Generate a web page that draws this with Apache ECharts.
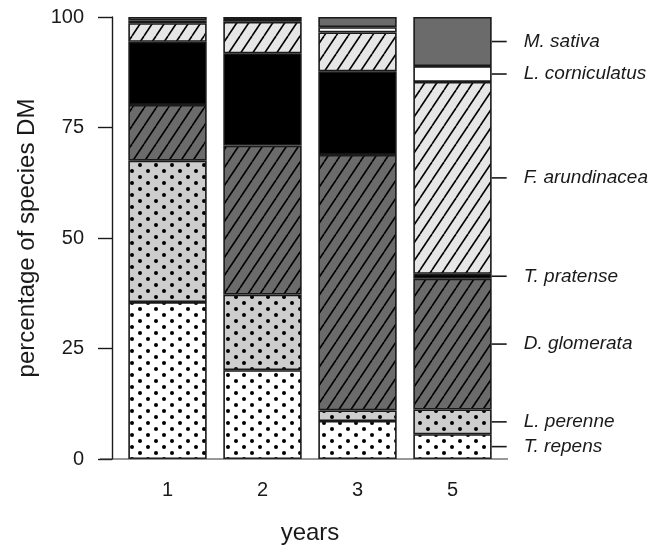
<!DOCTYPE html>
<html>
<head>
<meta charset="utf-8">
<script src="https://cdn.jsdelivr.net/npm/echarts@6/dist/echarts.min.js"></script>
<style>
html,body{margin:0;padding:0;background:#fff;}
#chart{width:657px;height:554px;}
</style>
</head>
<body>
<div id="chart"></div>
<script>
// ---- data ----
var years = ['1', '2', '3', '5'];
var yTicks = [0, 25, 50, 75, 100];
var species = ['T. repens', 'L. perenne', 'D. glomerata', 'T. pratense', 'F. arundinacea', 'L. corniculatus', 'M. sativa'];
var tRepens = [35.5, 20.1, 8.6, 5.6];
var lPerenne = [32.0, 17.1, 2.4, 5.6];
var dGlomerata = [12.6, 33.7, 57.8, 29.6];
var tPratense = [14.3, 20.9, 18.9, 1.1];
var fArundinacea = [4.2, 7.1, 8.8, 43.4];
var lCorniculatus = [0.6, 0.4, 1.2, 3.6];
var mSativa = [0.8, 0.7, 2.3, 11.1];
var seriesValues = [tRepens, lPerenne, dGlomerata, tPratense, fArundinacea, lCorniculatus, mSativa];

// ---- patterns ----
function dotPattern(bg) {
  var c = document.createElement('canvas');
  c.width = 16; c.height = 12;
  var g = c.getContext('2d');
  g.fillStyle = bg; g.fillRect(0, 0, 16, 12);
  g.fillStyle = '#000';
  [[4, 3], [12, 9]].forEach(function (p) {
    g.beginPath(); g.arc(p[0], p[1], 2.0, 0, Math.PI * 2); g.fill();
  });
  return { image: c, repeat: 'repeat' };
}
function hatchPattern(bg) {
  var W = 12, H = 18;
  var c = document.createElement('canvas');
  c.width = W; c.height = H;
  var g = c.getContext('2d');
  g.fillStyle = bg; g.fillRect(0, 0, W, H);
  g.strokeStyle = '#000'; g.lineWidth = 1.6;
  for (var k = -1; k <= 1; k++) {
    g.beginPath(); g.moveTo(k * W, H); g.lineTo((k + 1) * W, 0); g.stroke();
  }
  return { image: c, repeat: 'repeat' };
}
var fills = [
  dotPattern('#ffffff'),
  dotPattern('#cdcdcd'),
  hatchPattern('#6b6b6b'),
  '#000000',
  hatchPattern('#e6e6e6'),
  '#ffffff',
  '#6b6b6b'
];

var chart = echarts.init(document.getElementById('chart'), null, { renderer: 'canvas' });
var font = "'Liberation Sans', Arial, sans-serif";

var series = species.map(function (name, si) {
  var vals = seriesValues[si];
  return {
    name: name,
    type: 'bar',
    stack: 'all',
    barCategoryGap: '17.5%',
    itemStyle: { color: fills[si], borderColor: '#1a1a1a', borderWidth: 1.6 },
    label: {
      show: false,
      position: 'right',
      distance: 0,
      formatter: '{l|}{t|' + name + '}',
      rich: {
        l: { width: 15, height: 1.6, backgroundColor: '#1a1a1a' },
        t: { fontFamily: font, fontSize: 19, fontStyle: 'italic', color: '#1a1a1a', padding: [0, 0, 0, 17] }
      }
    },
    data: vals.map(function (v, i) {
      return i === vals.length - 1 ? { value: v, label: { show: true } } : v;
    }),
    emphasis: { disabled: true },
    animation: false
  };
});

chart.setOption({
  animation: false,
  backgroundColor: '#ffffff',
  grid: { left: 120, width: 380, top: 17, bottom: 95 },
  xAxis: {
    type: 'category',
    data: years,
    name: 'years',
    nameLocation: 'middle',
    nameGap: 62,
    nameTextStyle: { fontFamily: font, fontSize: 24, color: '#1a1a1a' },
    axisLine: { show: false },
    axisTick: { show: false },
    axisLabel: { fontFamily: font, fontSize: 20, color: '#1a1a1a', margin: 21 }
  },
  yAxis: {
    type: 'value',
    min: 0, max: 100, interval: 25,
    offset: 8,
    name: 'percentage of species DM',
    nameLocation: 'middle',
    nameGap: 66,
    nameTextStyle: { fontFamily: font, fontSize: 24, color: '#1a1a1a' },
    axisLine: { show: true, lineStyle: { color: '#1a1a1a', width: 1.4 } },
    axisTick: { show: true, length: 14, lineStyle: { color: '#1a1a1a', width: 1.4 } },
    axisLabel: {
      fontFamily: font, fontSize: 20, color: '#1a1a1a', margin: 28,
      formatter: function (v) { return yTicks.indexOf(v) >= 0 ? String(v) : ''; }
    },
    splitLine: { show: false }
  },
  series: series
});

var y0 = chart.convertToPixel({ yAxisIndex: 0 }, 0);
chart.setOption({
  graphic: [{
    type: 'line', silent: true, z: 10,
    shape: { x1: 100, y1: y0, x2: 508, y2: y0 },
    style: { stroke: '#333', lineWidth: 1.2 }
  }]
});
</script>
</body>
</html>
